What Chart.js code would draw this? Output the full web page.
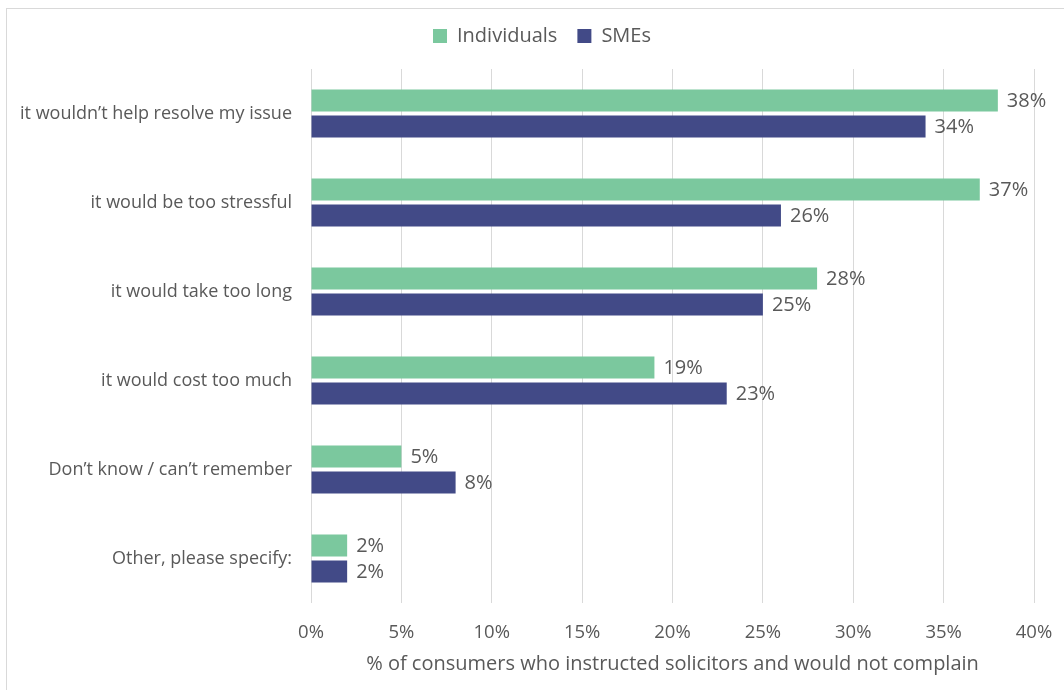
<!DOCTYPE html>
<html>
<head>
<meta charset="utf-8">
<script src="https://cdn.jsdelivr.net/npm/chart.js@4"></script>
<style>
  html, body { margin: 0; padding: 0; background: #fff; }
  body { width: 1064px; height: 690px; overflow: hidden; position: relative; }
  .frame {
    position: absolute; left: 6px; top: 8px; width: 1080px; height: 700px;
    border: 1px solid #d9d9d9; box-sizing: border-box;
  }
  .wrap { position: absolute; left: 0; top: 0; width: 1064px; height: 690px; }
  canvas { display: block; }
</style>
</head>
<body>
<div class="frame"></div>
<div class="wrap"><canvas id="chart" width="1064" height="690"></canvas></div>
<script>
// reasons for not complaining, share of respondents (%)
const reasons = [
  "it wouldn\u2019t help resolve my issue",
  "it would be too stressful",
  "it would take too long",
  "it would cost too much",
  "Don\u2019t know / can\u2019t remember",
  "Other, please specify:"
];
const individuals = [38, 37, 28, 19, 5, 2];
const smes = [34, 26, 25, 23, 8, 2];
const xTicks = [0, 5, 10, 15, 20, 25, 30, 35, 40];

const GREEN = "#7bc89e";
const NAVY = "#424a87";
const TEXT = "#595959";
const FONT = "'Open Sans', sans-serif";

// write the value just past the end of each bar
const barLabels = {
  id: "barLabels",
  afterDatasetsDraw(chart) {
    const ctx = chart.ctx;
    ctx.save();
    ctx.font = "20px " + FONT;
    ctx.fillStyle = TEXT;
    ctx.textAlign = "left";
    ctx.textBaseline = "middle";
    chart.data.datasets.forEach((ds, i) => {
      chart.getDatasetMeta(i).data.forEach((bar, j) => {
        ctx.fillText(ds.data[j] + "%", bar.x + 9, bar.y + 1);
      });
    });
    ctx.restore();
  }
};

// extra room under the legend, and nudge it right so it sits over the whole frame
const legendSpacing = {
  id: "legendSpacing",
  beforeLayout(chart) {
    const legend = chart.legend;
    if (!legend || legend._spaced) return;
    legend._spaced = true;
    const fit = legend.fit;
    legend.fit = function () {
      fit.call(this);
      this.height += 13;
    };
    const draw = legend.draw;
    legend.draw = function () {
      const ctx = this.ctx;
      ctx.save();
      ctx.translate(25, 0);
      draw.call(this);
      ctx.restore();
    };
  }
};

new Chart(document.getElementById("chart"), {
  type: "bar",
  data: {
    labels: reasons,
    datasets: [
      { label: "Individuals", data: individuals, backgroundColor: GREEN },
      { label: "SMEs", data: smes, backgroundColor: NAVY }
    ]
  },
  options: {
    indexAxis: "y",
    responsive: false,
    animation: false,
    devicePixelRatio: 1,
    categoryPercentage: 0.585,
    barPercentage: 0.85,
    layout: { padding: { top: 6, right: 30, left: 0, bottom: 8 } },
    plugins: {
      legend: {
        position: "top",
        labels: {
          boxWidth: 14,
          boxHeight: 14,
          padding: 20,
          color: TEXT,
          font: { family: FONT, size: 20 }
        }
      },
      tooltip: { enabled: false }
    },
    scales: {
      x: {
        min: 0,
        max: 40,
        afterBuildTicks(scale) {
          scale.ticks = xTicks.map(v => ({ value: v }));
        },
        afterFit(scale) {
          scale.height = 79;
          scale.paddingRight = 0;
        },
        ticks: {
          color: TEXT,
          padding: 19,
          font: { family: FONT, size: 18.5 },
          callback: v => v + "%"
        },
        grid: { color: "#d9d9d9", drawTicks: false },
        border: { display: false },
        title: {
          display: true,
          text: "% of consumers who instructed solicitors and would not complain",
          color: TEXT,
          font: { family: FONT, size: 20 },
          padding: { top: 6, bottom: 6 }
        }
      },
      y: {
        afterFit(scale) { scale.width = 311; },
        ticks: {
          color: TEXT,
          padding: 11,
          font: { family: FONT, size: 18 }
        },
        grid: { display: false },
        border: { display: false }
      }
    }
  },
  plugins: [barLabels, legendSpacing]
});
</script>
</body>
</html>
